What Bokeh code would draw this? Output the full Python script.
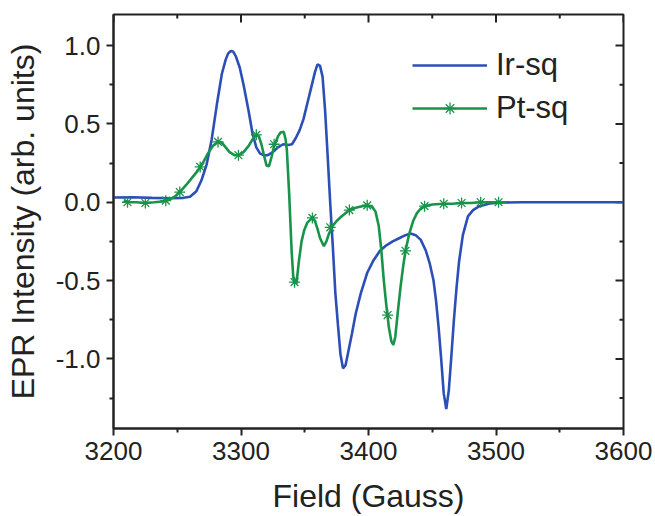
import math
from bokeh.plotting import figure
from bokeh.models import FixedTicker, Range1d, PrintfTickFormatter, Legend, LegendItem
from bokeh.embed import file_html
from bokeh.resources import INLINE

# ---------------- data ----------------
ir_field = [3200, 3215, 3230, 3245, 3255, 3260, 3265, 3269, 3273, 3277, 3281, 3285, 3288, 3290,
            3292, 3294, 3296, 3299, 3302, 3306, 3309, 3312, 3315, 3318, 3321, 3325, 3329, 3333,
            3337, 3340, 3343, 3346, 3349, 3352, 3355, 3358, 3360, 3362, 3364, 3366, 3368, 3370,
            3372, 3374, 3376, 3378, 3380, 3382, 3384, 3387, 3390, 3394, 3399, 3404, 3409, 3414,
            3419, 3424, 3429, 3433, 3437, 3441, 3445, 3448, 3451, 3453, 3455, 3457, 3459, 3461,
            3463, 3465, 3467, 3469, 3471, 3474, 3478, 3482, 3487, 3495, 3505, 3520, 3540, 3560,
            3580, 3600]
ir_signal = [0.03, 0.032, 0.028, 0.025, 0.028, 0.035, 0.07, 0.14, 0.24, 0.40, 0.62, 0.82, 0.91, 0.95,
             0.965, 0.96, 0.93, 0.86, 0.75, 0.58, 0.44, 0.35, 0.31, 0.30, 0.30, 0.32, 0.35, 0.37,
             0.365, 0.37, 0.41, 0.46, 0.53, 0.63, 0.73, 0.83, 0.88, 0.87, 0.80, 0.58, 0.29, -0.01,
             -0.28, -0.58, -0.78, -0.97, -1.06, -1.04, -0.96, -0.84, -0.71, -0.58, -0.45, -0.37, -0.31, -0.275,
             -0.25, -0.23, -0.21, -0.20, -0.21, -0.24, -0.31, -0.39, -0.50, -0.63, -0.80, -1.00, -1.22, -1.32,
             -1.20, -0.98, -0.75, -0.55, -0.38, -0.21, -0.09, -0.05, -0.025, -0.008, -0.002, 0.0, 0.0, 0.0,
             0.0, 0.0]

pt_field = [3208, 3213, 3218, 3225, 3232, 3238, 3243, 3248, 3252, 3257, 3262, 3266, 3270, 3274,
            3278, 3282, 3285, 3288, 3291, 3295, 3298, 3302, 3306, 3309, 3312, 3314, 3316, 3318,
            3320, 3322, 3324, 3326, 3329, 3331, 3333.5, 3335, 3336, 3337.8, 3339.7, 3341, 3343.5, 3345.5,
            3347.5, 3349.5, 3352, 3356, 3358, 3360, 3362, 3365, 3367, 3369, 3372, 3375, 3379, 3385,
            3390, 3395, 3399.5, 3403, 3405.5, 3408, 3410, 3412, 3414, 3416, 3418, 3419.5, 3421, 3423,
            3425, 3427, 3429, 3432, 3435, 3438, 3441, 3444.5, 3450, 3459, 3466, 3473, 3480, 3488,
            3495, 3502, 3508]
pt_signal = [0.01, 0.0, 0.0, -0.005, 0.0, 0.005, 0.015, 0.035, 0.065, 0.11, 0.16, 0.20, 0.25, 0.31,
             0.36, 0.385, 0.38, 0.35, 0.32, 0.30, 0.30, 0.32, 0.36, 0.40, 0.43, 0.42, 0.37, 0.30,
             0.235, 0.23, 0.29, 0.36, 0.42, 0.445, 0.45, 0.40, 0.33, 0.05, -0.31, -0.48, -0.52, -0.37,
             -0.25, -0.18, -0.13, -0.10, -0.12, -0.17, -0.23, -0.28, -0.25, -0.20, -0.15, -0.12, -0.09, -0.05,
             -0.035, -0.025, -0.02, -0.03, -0.06, -0.15, -0.30, -0.50, -0.66, -0.80, -0.89, -0.91, -0.86, -0.70,
             -0.55, -0.42, -0.31, -0.20, -0.12, -0.07, -0.04, -0.025, -0.015, -0.01, -0.01, -0.005, -0.005, 0.0,
             0.0, 0.0, 0.0]

pt_marker_field = [3211, 3225, 3241, 3252, 3268, 3282, 3298, 3312, 3326, 3342, 3356, 3370,
                   3385, 3399, 3415, 3429, 3444, 3459, 3473, 3488, 3502]
pt_marker_signal = [0.0, -0.005, 0.01, 0.065, 0.225, 0.385, 0.30, 0.43, 0.37, -0.51, -0.10, -0.16,
                    -0.05, -0.02, -0.72, -0.31, -0.025, -0.01, -0.005, 0.0, 0.0]

x_major_ticks = [3200, 3300, 3400, 3500, 3600]
x_minor_ticks = [3250, 3350, 3450, 3550]
y_major_ticks = [-1.0, -0.5, 0.0, 0.5, 1.0]
y_minor_ticks = [-1.25, -0.75, -0.25, 0.25, 0.75]
x_limits = (3200, 3600)
y_limits = (-1.444, 1.198)

series_names = ["Ir-sq", "Pt-sq"]
x_label = "Field (Gauss)"
y_label = "EPR Intensity (arb. units)"

# ---------------- styling ----------------
FONT = "Liberation Sans"
BLUE = "#2c4fb6"
GREEN = "#18934a"
FRAME = "#222222"

p = figure(width=655, height=516, output_backend="svg", toolbar_location=None,
           x_range=Range1d(*x_limits), y_range=Range1d(*y_limits),
           min_border_left=113, min_border_right=32, min_border_top=14, min_border_bottom=88,
           x_axis_label=x_label, y_axis_label=y_label)
p.grid.visible = False
p.outline_line_color = FRAME
p.outline_line_width = 2
p.background_fill_color = "white"
p.border_fill_color = "white"

xt = FixedTicker(ticks=x_major_ticks, minor_ticks=x_minor_ticks)
yt = FixedTicker(ticks=y_major_ticks, minor_ticks=y_minor_ticks)

for ax, tk in ((p.xaxis[0], xt), (p.yaxis[0], yt)):
    ax.ticker = tk
    ax.axis_line_color = FRAME
    ax.axis_line_width = 2
    ax.major_tick_line_color = FRAME
    ax.major_tick_line_width = 2
    ax.minor_tick_line_color = FRAME
    ax.minor_tick_line_width = 2
    ax.major_tick_in = 0
    ax.major_tick_out = 7
    ax.minor_tick_in = 0
    ax.minor_tick_out = 4
    ax.major_label_text_font = FONT
    ax.major_label_text_font_size = "26px"
    ax.major_label_text_color = "#222222"
    ax.axis_label_text_font = FONT
    ax.axis_label_text_font_size = "32px"
    ax.axis_label_text_font_style = "normal"
    ax.axis_label_text_color = "#222222"

p.xaxis[0].major_label_standoff = 6
p.xaxis[0].axis_label_standoff = 15
p.yaxis[0].major_label_standoff = 6
p.yaxis[0].axis_label_standoff = 12
p.yaxis[0].formatter = PrintfTickFormatter(format="%.1f")

# mirrored inward ticks on the top and right edges of the frame
p.ray(x=x_major_ticks, y=[y_limits[1]] * len(x_major_ticks), length=8, length_units="screen",
      angle=-math.pi / 2, line_color=FRAME, line_width=2)
p.ray(x=x_minor_ticks, y=[y_limits[1]] * len(x_minor_ticks), length=4, length_units="screen",
      angle=-math.pi / 2, line_color=FRAME, line_width=2)
p.ray(x=[x_limits[1]] * len(y_major_ticks), y=y_major_ticks, length=8, length_units="screen",
      angle=math.pi, line_color=FRAME, line_width=2)
p.ray(x=[x_limits[1]] * len(y_minor_ticks), y=y_minor_ticks, length=4, length_units="screen",
      angle=math.pi, line_color=FRAME, line_width=2)

r_ir = p.line(ir_field, ir_signal, line_color=BLUE, line_width=2.6)
r_pt = p.line(pt_field, pt_signal, line_color=GREEN, line_width=2.6)
r_pm = p.scatter(pt_marker_field, pt_marker_signal, marker="asterisk", size=11,
                 line_color=GREEN, line_width=1.3)

legend = Legend(items=[LegendItem(label=series_names[0], renderers=[r_ir]),
                       LegendItem(label=series_names[1], renderers=[r_pt, r_pm])],
                location=(299, 302), orientation="vertical",
                background_fill_alpha=0, border_line_color=None,
                padding=0, margin=0, spacing=7,
                glyph_width=75, glyph_height=30, label_height=30, label_standoff=9,
                label_text_font=FONT, label_text_font_size="31px", label_text_color="#222222")
p.add_layout(legend)

open("out.html", "w").write(file_html(p, INLINE))
